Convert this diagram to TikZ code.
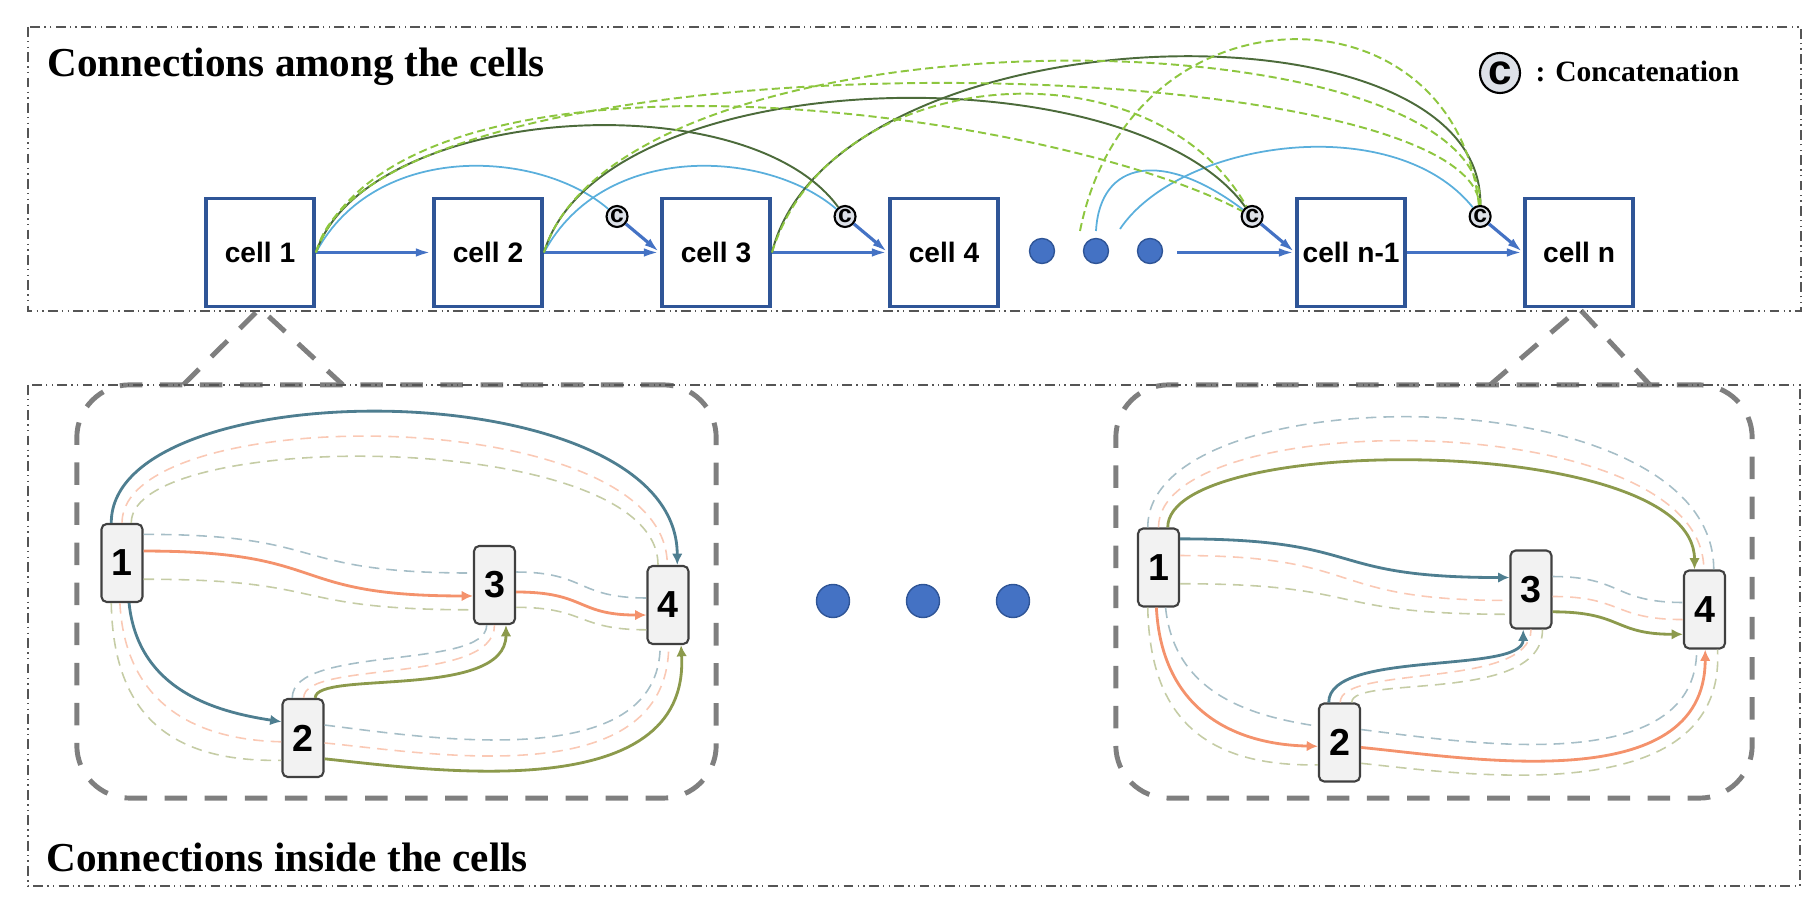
\documentclass[tikz,border=0pt]{standalone}
\usepackage{fontspec}
\setmainfont{Liberation Serif}
\setsansfont{Liberation Sans}
\usepackage{tikz}
\usetikzlibrary{
  arrows.meta,
  calc,
  positioning,
}
\definecolor{cellblue}{HTML}{2F5597}
\definecolor{passblue}{HTML}{4472C4}
\definecolor{skipblue}{HTML}{5AAFDC}
\definecolor{deepgreen}{HTML}{4C6B3B}
\definecolor{limegreen}{HTML}{8DC63F}
\definecolor{catgray}{HTML}{DDE1E8}
\definecolor{bluegray}{HTML}{4E7E90}
\definecolor{salmon}{HTML}{F4926C}
\definecolor{moss}{HTML}{8C9A4C}
\definecolor{framegray}{HTML}{555555}
\definecolor{zoomgray}{HTML}{7F7F7F}

\tikzstyle{frameline} = [draw=framegray, line width=0.45pt,
  dash pattern=on 2.8pt off 1.2pt on 0.4pt off 1.2pt on 0.4pt off 1.2pt]
\tikzstyle{heading} = [inner sep=0pt, font=\bfseries\fontsize{11.7}{14}\selectfont]
\tikzstyle{cellbox} = [draw=cellblue, line width=1.1pt, fill=white, minimum width=1.08cm,
  minimum height=1.08cm, inner sep=0pt, font=\sffamily\bfseries\fontsize{8}{9.6}\selectfont]
\tikzstyle{passarrow} = [-{Latex[length=4.6pt,width=2.4pt]}, draw=passblue, line width=0.9pt]
\tikzstyle{bluedot} = [circle, draw=cellblue, line width=0.4pt, fill=passblue,
  minimum size=0.25cm, inner sep=0pt]
\tikzstyle{catnode} = [circle, draw=black, line width=0.6pt, fill=catgray, minimum size=0.21cm,
  inner sep=0pt, font=\sffamily\bfseries\fontsize{7}{7}\selectfont]
\tikzstyle{skipline} = [draw=skipblue, line width=0.5pt]
\tikzstyle{deepline} = [draw=deepgreen, line width=0.55pt]
\tikzstyle{lateline} = [draw=limegreen, line width=0.55pt, dash pattern=on 2.3pt off 1.2pt]
\tikzstyle{zoomline} = [draw=zoomgray, line width=1.4pt, dash pattern=on 6.4pt off 5pt]
\tikzstyle{zoombox} = [zoomline, rounded corners=15pt]
\tikzstyle{unitbox} = [draw=black!75, line width=0.6pt, fill=black!5, rounded corners=1.5pt,
  minimum width=0.41cm, minimum height=0.78cm, inner sep=0pt,
  font=\sffamily\bfseries\fontsize{10.7}{12}\selectfont]
\tikzset{
  mainflow/.style={draw=#1, line width=0.8pt, -{Latex[length=3.2pt,width=3pt]}},
  sideflow/.style={draw=#1!50, line width=0.45pt, dash pattern=on 3pt off 2pt},
  flow/.code 2 args={\edef\flowcol{#1}\edef\flowmain{#2}%
    \ifx\flowcol\flowmain\pgfkeysalso{mainflow=#1}\else\pgfkeysalso{sideflow=#1}\fi},
}

% one cell opened up: #1 prefix, #2..#7 solid colour of 1-4, 1-2, 1-3, 2-3, 2-4, 3-4
\newcommand{\insideflows}[7]{%
  \node[unitbox] (#1-1) at (122,563) {1};
  \node[unitbox] (#1-2) at (303,738) {2};
  \node[unitbox] (#1-3) at (494.5,585) {3};
  \node[unitbox] (#1-4) at (668,605) {4};
  \foreach \col/\sa/\ea/\up/\dn in {bluegray/105/77/-154/-196, salmon/90/91/-122/-164, moss/77/104/-95/-137}
    \draw[flow={\col}{#2}] (#1-1.\sa) .. controls +(0,\up) and +(0,\dn) .. (#1-4.\ea);
  \foreach \col/\sa/\ea/\pa/\qa in {bluegray/280/143/{9,87}/{-66,-10}, salmon/267/190/{5,97}/{-91,-2}, moss/255/226/{2,112}/{-111,2}}
    \draw[flow={\col}{#3}] (#1-1.\sa) .. controls +(\pa) and +(\qa) .. (#1-2.\ea);
  \foreach \col/\sa/\ea in {bluegray/53/151, salmon/29/207, moss/323/229}
    \draw[flow={\col}{#4}] (#1-1.\sa) .. controls +(190,0) and +(-190,0) .. (#1-3.\ea);
  \foreach \col/\sa/\ea/\up/\dn in {bluegray/105/259/-53/45, salmon/89/270/-38/60, moss/73/286/-28/75}
    \draw[flow={\col}{#5}] (#1-2.\sa) .. controls +(0,\up) and +(0,\dn) .. (#1-3.\ea);
  \foreach \col/\sa/\ea/\pa/\qa in {bluegray/31/259/{105,13}/{0,130}, salmon/347/271/{105,10}/{0,150}, moss/316/288/{105,11}/{9,163}}
    \draw[flow={\col}{#6}] (#1-2.\sa) .. controls +(\pa) and +(\qa) .. (#1-4.\ea);
  \foreach \col/\sa/\ea in {bluegray/31/162, salmon/342/205, moss/314/229}
    \draw[flow={\col}{#7}] (#1-3.\sa) .. controls +(70,0) and +(-70,0) .. (#1-4.\ea);
}

\begin{document}
\begin{tikzpicture}[x=0.01cm, y=-0.01cm, node distance=1.16cm]
  \useasboundingbox (0,0) rectangle (1820,898);

  % cells and their links
  \node[cellbox] (cell1) at (260,252.5) {cell 1};
  \node[cellbox, right=of cell1] (cell2) {cell 2};
  \node[cellbox, right=of cell2] (cell3) {cell 3};
  \node[cellbox, right=of cell3] (cell4) {cell 4};
  \node[cellbox, right=2.95cm of cell4] (celln1) {cell n-1};
  \node[cellbox, right=of celln1] (celln) {cell n};
  \foreach \d/\x in {A/1042, B/1096, C/1150}
    \node[bluedot] (dot\d) at (\x,251) {};
  \foreach \k in {3,4,n1,n}
    \node[catnode] (cat\k) at ($(cell\k.west)+(-43,-36)$) {c};
  \coordinate (dots1) at ($(dotB)+(-16,-20)$);
  \coordinate (dots2) at ($(dotB)+(0,-20)$);
  \coordinate (dots3) at ($(dotB)+(24,-22)$);
  \coordinate (dotsout) at ($(dotC.east)+(14,1.5)$);

  % zoom into the first and the last cell
  \node[zoombox, minimum width=6.39cm, minimum height=4.13cm] (zoomL) at (396.5,591.5) {};
  \node[zoombox, minimum width=6.36cm, minimum height=4.13cm] (zoomR) at (1434,591.5) {};
  \coordinate (lin) at (183,385);
  \coordinate (lout) at (343,385);
  \coordinate (rin) at (1490,385);
  \coordinate (rout) at (1650,385);
  \draw[zoomline] (lin) -- (cell1.south) -- (lout);
  \draw[zoomline] (rin) -- (celln.south) -- (rout);

  \draw[frameline] (28,27) rectangle (1801,311);
  \draw[frameline] (28,385) rectangle (1800,886);
  \node[heading, anchor=base west] (among) at (47,77) {Connections among the cells};
  \node[heading, anchor=base west] (inside) at (46,872) {Connections inside the cells};
  \node[catnode, minimum size=0.4cm, font=\sffamily\bfseries\fontsize{12}{12}\selectfont] (catkey) at (1500,73) {c};
  \node[anchor=base west, inner sep=0pt, font=\bfseries\fontsize{8.4}{10}\selectfont] (catlabel) at (1535,82) {: Concatenation};

  \draw[passarrow] (cell1) -- (cell2);
  \draw[passarrow] (cell2) -- (cell3);
  \draw[passarrow] (cell3) -- (cell4);
  \draw[passarrow] (dotsout) -- (celln1.west);
  \draw[passarrow] (celln1) -- (celln);
  \foreach \k in {3,4,n1,n}
    \draw[passarrow] (cat\k) -- (cell\k.west);

  \draw[skipline] (cell1.east) .. controls +(60,-112) and +(-78,-67) .. (cat3);
  \draw[skipline] (cell2.east) .. controls +(60,-112) and +(-78,-67) .. (cat4);
  \draw[skipline] (dots2) .. controls +(4,-71) and +(-89,-67) .. (catn1);
  \draw[skipline] (dots3) .. controls +(60,-89) and +(-86,-107) .. (catn);
  \draw[deepline] (cell1.east) .. controls +(50,-147) and +(-100,-137) .. (cat4);
  \draw[deepline] (cell2.east) .. controls +(58,-192) and +(-120,-167) .. (catn1);
  \draw[deepline] (cell3.east) .. controls +(60,-242) and +(4,-227) .. (catn);
  \draw[lateline] (cell1.east) .. controls +(60,-230) and +(-10,-170) .. (catn);
  \draw[lateline] (cell1.east) .. controls +(85,-232) and +(-200,-107) .. (catn1);
  \draw[lateline] (cell2.east) .. controls +(78,-252) and +(4,-207) .. (catn);
  \draw[lateline] (cell3.east) .. controls +(60,-192) and +(-100,-177) .. (catn1);
  \draw[lateline] (dots1) .. controls +(50,-251) and +(-26,-237) .. (catn);

  % inside the cells
  \insideflows{l}{bluegray}{bluegray}{salmon}{moss}{moss}{salmon}
  \begin{scope}[shift={(1036.5,4.5)}]
    \insideflows{r}{moss}{salmon}{bluegray}{bluegray}{salmon}{moss}
  \end{scope}
  \foreach \d/\x in {A/833, B/923, C/1013}
    \node[bluedot, minimum size=0.33cm] (more\d) at (\x,601) {};
\end{tikzpicture}
\end{document}
